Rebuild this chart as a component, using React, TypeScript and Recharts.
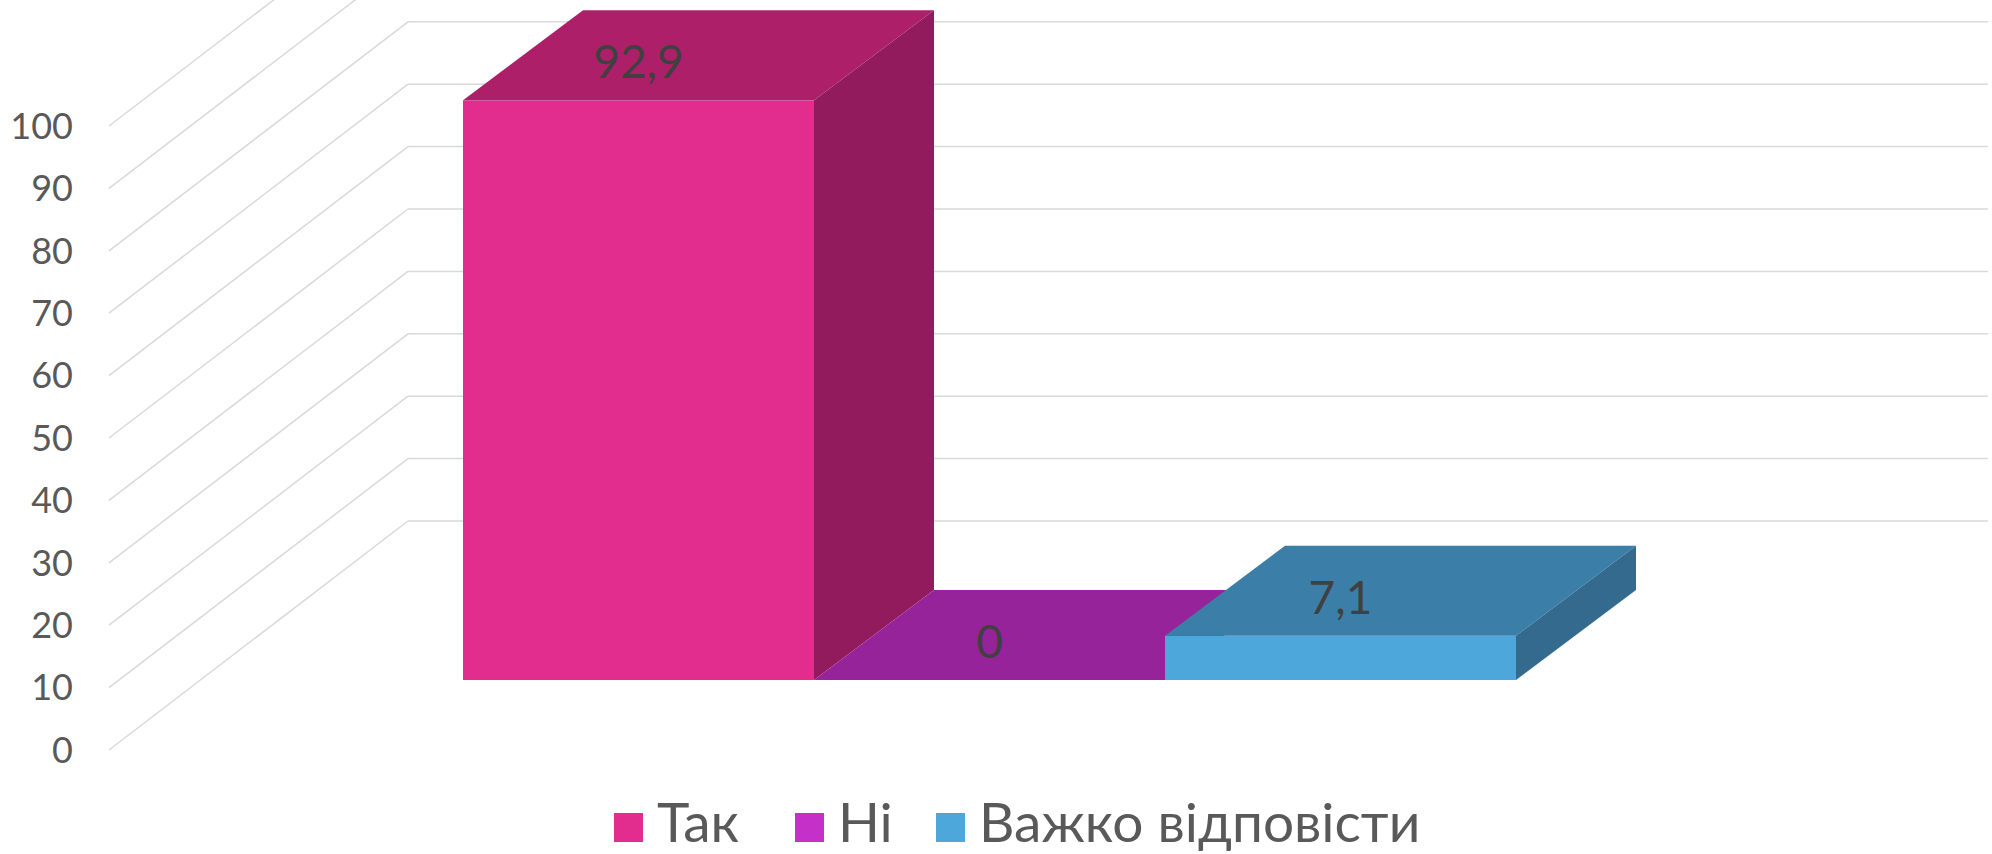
import React from 'react';
import {Bar, BarChart, CartesianGrid, LabelList, Legend, XAxis, YAxis} from 'recharts';

const categories = ['Відповідь'];
const seriesNames = ['Так', 'Ні', 'Важко відповісти'];
const seriesValues = [92.9, 0, 7.1];
const yTicks = [0, 10, 20, 30, 40, 50, 60, 70, 80, 90, 100];

const frontColors = ['#E22D8F', '#C530C9', '#4EA7DA'];
const topColors = ['#AD2069', '#96239A', '#3B7EA8'];
const sideColors = ['#921B5E', '#7A1C7E', '#336A8E'];

const data = categories.map((name) => {
    const row: Record<string, any> = {name};
    seriesNames.forEach((s, i) => {
        row[s] = seriesValues[i];
    });
    return row;
});

// fake 3d: back wall offset, bar front plane offset, bar depth
const WALL_DX = 299;
const WALL_DY = 229;
const SHIFT_X = 91;
const SHIFT_Y = 70;
const DEPTH_X = 120;
const DEPTH_Y = 90;

const FONT = 'Lato, "Noto Sans", sans-serif';
const legendItemWidths = [181, 141, 480];

const gridLine = (p: any) => {
    const {x1, y1, x2} = p;
    return (
        <g key={p.key}>
            <line x1={x1} y1={y1} x2={x1 + WALL_DX} y2={y1 - WALL_DY} stroke="#D9D9D9" strokeWidth={1.5}/>
            <line x1={x1 + WALL_DX} y1={y1 - WALL_DY} x2={x2 + WALL_DX} y2={y1 - WALL_DY} stroke="#D9D9D9"
                  strokeWidth={1.5}/>
        </g>
    );
};

const makeBox = (i: number) => (p: any) => {
    const {x, y, width} = p;
    const h = Math.max(p.height || 0, 0);
    const fx = x + SHIFT_X;
    const fy = y - SHIFT_Y;
    const top = `${fx},${fy} ${fx + width},${fy} ${fx + width + DEPTH_X},${fy - DEPTH_Y} ${fx + DEPTH_X},${fy - DEPTH_Y}`;
    const side = `${fx + width},${fy} ${fx + width + DEPTH_X},${fy - DEPTH_Y} ${fx + width + DEPTH_X},${fy - DEPTH_Y + h} ${fx + width},${fy + h}`;
    return (
        <g>
            <rect x={fx} y={fy} width={width} height={h} fill={frontColors[i]}/>
            <polygon points={top} fill={topColors[i]}/>
            <polygon points={side} fill={sideColors[i]}/>
        </g>
    );
};

const valueLabel = (p: any) => {
    const vb = p.viewBox || p;
    const x = vb.x + vb.width / 2 + SHIFT_X;
    const y = vb.y - SHIFT_Y - 22;
    return (
        <text x={x} y={y} textAnchor="middle" fill="#404040" fontSize={46} fontFamily={FONT}>
            {String(p.value).replace('.', ',')}
        </text>
    );
};

const LegendContent = () => (
    <div style={{display: 'flex', alignItems: 'flex-start', paddingLeft: 614, height: 50}}>
        {seriesNames.map((s, i) => (
            <div key={s} style={{display: 'flex', alignItems: 'flex-start', width: legendItemWidths[i]}}>
                <div style={{
                    width: 29,
                    height: 29,
                    background: frontColors[i],
                    marginRight: 14,
                    marginTop: 17,
                    flexShrink: 0
                }}/>
                <span style={{
                    fontFamily: FONT,
                    fontSize: 55,
                    color: '#595959',
                    lineHeight: '50px',
                    whiteSpace: 'nowrap'
                }}>{s}</span>
            </div>
        ))}
    </div>
);

const App = () => {
    return (
        <div style={{position: 'absolute', left: 0, top: 0, background: '#fff'}}>
            <BarChart
                width={1992}
                height={854}
                data={data}
                margin={{top: 126, right: 303, left: 0, bottom: 54}}
                barCategoryGap={263}
                barGap={0}
            >
                <CartesianGrid vertical={false} horizontal={gridLine}/>
                <XAxis dataKey="name" hide/>
                <YAxis
                    width={109}
                    domain={[0, 100]}
                    ticks={yTicks}
                    axisLine={false}
                    tickLine={false}
                    tickSize={0}
                    tickMargin={36}
                    tick={{fill: '#595959', fontSize: 36, fontFamily: FONT}}
                />
                <Legend
                    verticalAlign="bottom"
                    content={<LegendContent/>}
                    wrapperStyle={{left: 0, width: 1992, bottom: 'auto', top: 796}}
                />
                {seriesNames.map((s, i) => (
                    <Bar key={s} dataKey={s} fill={frontColors[i]} shape={makeBox(i)} isAnimationActive={false}>
                        <LabelList dataKey={s} content={valueLabel}/>
                    </Bar>
                ))}
            </BarChart>
        </div>
    );
};

export default App;
